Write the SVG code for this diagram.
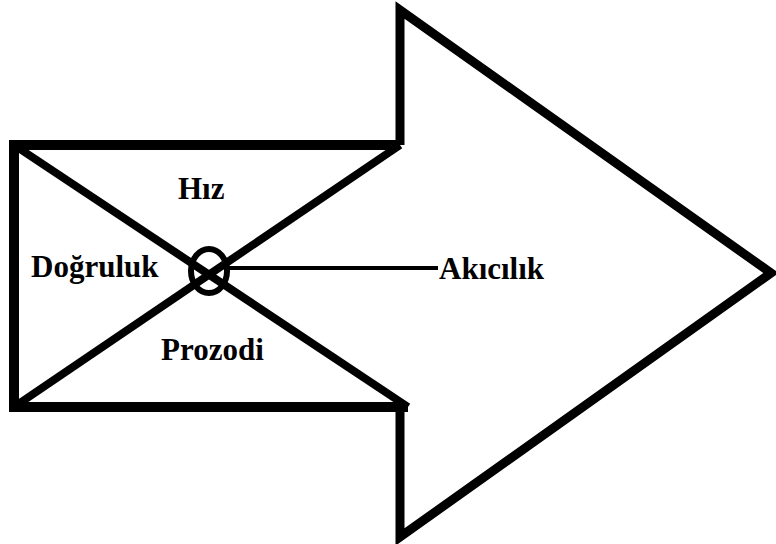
<svg xmlns="http://www.w3.org/2000/svg" width="776" height="544" viewBox="0 0 776 544">
<style>
.s{fill:none;stroke:#000;stroke-linejoin:miter;}
.t{font-family:"Liberation Serif","Times New Roman",serif;font-weight:bold;font-size:31px;fill:#000;}
</style>
<rect width="776" height="544" fill="#fff"/>
<g id="arrow">
<path class="s" stroke-width="9" d="M400,145 L400,10 L771,273 L400,537 L400,407"/>
</g>
<g id="box">
<path class="s" stroke-width="10" d="M400,145 L14,145 L14,407 L408,407"/>
</g>
<g id="connectors">
<line class="s" stroke-width="8" x1="14" y1="145" x2="408" y2="407"/>
<line class="s" stroke-width="8" x1="14" y1="407" x2="400" y2="145"/>
<line class="s" stroke-width="4" x1="226" y1="268" x2="438" y2="268"/>
</g>
<g id="center">
<ellipse class="s" stroke-width="6" cx="209" cy="271" rx="18" ry="22"/>
</g>
<g id="hiz"><text class="t" x="178" y="199">Hız</text></g>
<g id="dogruluk"><text class="t" x="31" y="277">Doğruluk</text></g>
<g id="akicilik"><text class="t" x="439" y="279">Akıcılık</text></g>
<g id="prozodi"><text class="t" x="161" y="360">Prozodi</text></g>
</svg>
